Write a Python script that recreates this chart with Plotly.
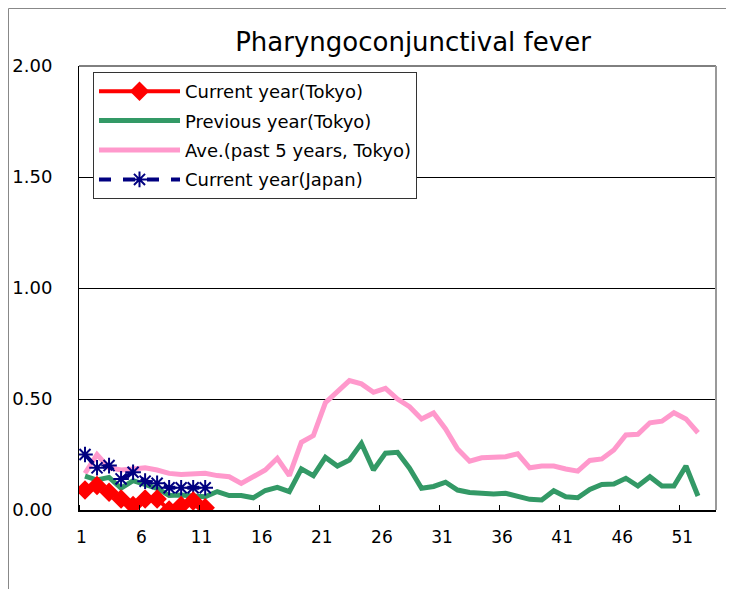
import plotly.graph_objects as go

weeks = list(range(1, 53))

current_tokyo = [0.09, 0.11, 0.08, 0.05, 0.02, 0.05, 0.05, 0.00, 0.02, 0.04, 0.01]
current_japan = [0.25, 0.19, 0.20, 0.14, 0.17, 0.13, 0.12, 0.10, 0.10, 0.10, 0.10]
previous_tokyo = [0.153, 0.135, 0.147, 0.098, 0.132, 0.117, 0.098, 0.065, 0.068, 0.063,
                  0.060, 0.083, 0.065, 0.065, 0.055, 0.088, 0.102, 0.083, 0.185, 0.155,
                  0.237, 0.198, 0.225, 0.300, 0.180, 0.256, 0.260, 0.188, 0.098, 0.106,
                  0.125, 0.090, 0.079, 0.075, 0.072, 0.075, 0.060, 0.048, 0.045, 0.087,
                  0.060, 0.055, 0.093, 0.115, 0.117, 0.143, 0.108, 0.150, 0.108, 0.108,
                  0.198, 0.063]
ave5_tokyo = [0.165, 0.250, 0.190, 0.180, 0.185, 0.190, 0.180, 0.165, 0.160, 0.165,
              0.165, 0.155, 0.150, 0.120, 0.150, 0.180, 0.233, 0.155, 0.305, 0.335,
              0.483, 0.533, 0.583, 0.568, 0.530, 0.548, 0.500, 0.465, 0.410, 0.437,
              0.365, 0.275, 0.220, 0.235, 0.236, 0.240, 0.253, 0.190, 0.198, 0.198,
              0.185, 0.175, 0.223, 0.230, 0.270, 0.338, 0.341, 0.393, 0.400, 0.438,
              0.410, 0.348]

x_labels = ["1", "6", "11", "16", "21", "26", "31", "36", "41", "46", "51"]
y_ticks = [0, 0.5, 1.0, 1.5, 2.0]

FONT = "DejaVu Sans"

# page body has an 8px margin; figure is sized to fill the remaining window
W, H = 726, 581
L, R, T, B = 71, 18, 58, 79
PW, PH = W - L - R, H - T - B

fig = go.Figure()
fig.add_trace(go.Scatter(
    x=weeks, y=ave5_tokyo, name="Ave.(past 5 years, Tokyo)", mode="lines",
    line=dict(color="#FF99CC", width=5), legendrank=3, legendgroup="c"))
fig.add_trace(go.Scatter(
    x=weeks, y=previous_tokyo, name="Previous year(Tokyo)", mode="lines",
    line=dict(color="#339966", width=5), legendrank=2, legendgroup="b"))
fig.add_trace(go.Scatter(
    x=weeks[:len(current_japan)], y=current_japan, name="Current year(Japan)",
    mode="lines+markers", line=dict(color="#000080", width=4, dash="dash"),
    marker=dict(symbol="asterisk-open", size=13, line=dict(color="#000080", width=2)),
    legendrank=4, legendgroup="d"))
fig.add_trace(go.Scatter(
    x=weeks[:len(current_tokyo)], y=current_tokyo, name="Current year(Tokyo)",
    mode="lines+markers", line=dict(color="#FF0000", width=4),
    marker=dict(symbol="diamond", size=15, color="#FF0000"),
    legendrank=1, legendgroup="a"))

fig.update_layout(
    width=W, height=H,
    margin=dict(l=L, r=R, t=T, b=B, autoexpand=False),
    paper_bgcolor="white", plot_bgcolor="white",
    font=dict(family=FONT, size=17, color="black"),
    title=dict(text="Pharyngoconjunctival fever", x=405 / W, xanchor="center",
               y=1 - 34 / H, yanchor="middle",
               font=dict(family=FONT, size=26, color="black")),
    showlegend=True,
    legend=dict(x=(85 - L) / PW, y=(T + PH - 64) / PH, xanchor="left", yanchor="top",
                bgcolor="white", bordercolor="#333333", borderwidth=1,
                font=dict(family=FONT, size=18, color="black"),
                tracegroupgap=3, itemwidth=81),
    xaxis=dict(range=[0.5, 53.5], showgrid=False, zeroline=False, automargin=False,
               tickmode="array",
               tickvals=[int(t) - 0.3 for t in x_labels], ticktext=x_labels,
               ticks="", showline=True, linecolor="black", linewidth=2,
               ticklabelstandoff=11,
               minor=dict(ticks="inside", tick0=0.5, dtick=5, ticklen=5,
                          tickcolor="black", tickwidth=1, showgrid=False)),
    yaxis=dict(range=[0, 2], tickmode="array", tickvals=y_ticks, automargin=False,
               tickformat=".2f", showgrid=True, gridcolor="black", gridwidth=1,
               zeroline=False, showline=True, linecolor="black", linewidth=1,
               ticks="", ticklabelstandoff=22, tickfont=dict(size=18)),
)

# plot area top and right borders
fig.add_shape(type="line", xref="x domain", yref="y domain", x0=0, x1=1, y0=1, y1=1,
              line=dict(color="black", width=1))
fig.add_shape(type="line", xref="x domain", yref="y domain", x0=1, x1=1, y0=0, y1=1,
              line=dict(color="#999999", width=2))
# chart area border (only top and left edges are inside the window)
top_y = (T + PH - 0.5) / PH
left_x = (0.5 - L) / PW
fig.add_shape(type="line", xref="paper", yref="paper", x0=left_x, x1=2,
              y0=top_y, y1=top_y, line=dict(color="#888888", width=1))
fig.add_shape(type="line", xref="paper", yref="paper", x0=left_x, x1=left_x,
              y0=-1, y1=top_y, line=dict(color="#888888", width=1))

fig.write_html("out.html")
